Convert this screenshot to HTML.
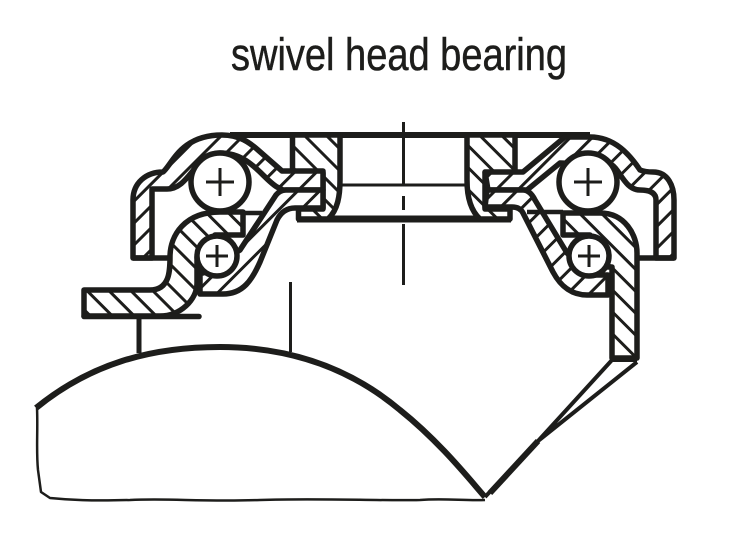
<!DOCTYPE html>
<html><head><meta charset="utf-8"><style>html,body{margin:0;padding:0;background:#fff}svg{display:block}</style></head><body>
<svg width="750" height="540" viewBox="0 0 750 540" xmlns="http://www.w3.org/2000/svg">
<defs>
<pattern id="b" width="15.500" height="15.500" patternUnits="userSpaceOnUse" patternTransform="rotate(45) translate(0 3)"><rect width="15.500" height="15.500" fill="#fff"/><rect x="0" y="0" width="15.500" height="3" fill="#1d1d1b"/></pattern>
<pattern id="s" width="15.500" height="15.500" patternUnits="userSpaceOnUse" patternTransform="rotate(-45) translate(0 3)"><rect width="15.500" height="15.500" fill="#fff"/><rect x="0" y="0" width="15.500" height="3" fill="#1d1d1b"/></pattern>
</defs>
<rect width="750" height="540" fill="#fff"/>
<text x="231" y="70" font-family="'Liberation Sans',sans-serif" font-size="45" fill="#1d1d1b" stroke="#1d1d1b" stroke-width="0.500" textLength="336" lengthAdjust="spacingAndGlyphs">swivel head bearing</text>
<g stroke="#1d1d1b" stroke-width="5.500" fill="none" stroke-linejoin="round">
<!-- wheel -->
<path d="M36,408 C90,364 150,347 220,347 C290,347 350,368 400,410 C440,442 470,480 485,497" stroke-width="6"/>
<path d="M37,408 C38,430 36,450 38,470 L41,492 L50,498 C70,500 90,501 130,500 C170,498 200,502 260,500 C320,498 380,501 420,500 C445,498 465,501 485,500" stroke-width="2.500"/>
<path d="M485,497 L538,441 L612,360 M485,497 L538,441 L637,362" stroke-width="4"/>
<path d="M490,493 L538,441" stroke-width="6"/>
<path d="M612,360 H637" stroke-width="4"/>
<path d="M139,317 V353" stroke-width="5"/>
<path d="M290.500,282 V352" stroke-width="3"/>
<!-- centre -->
<path d="M403.500,122 V185 M403.500,196 V210 M403.500,224 V285" stroke-width="3"/>
<path d="M342,185 H466" stroke-width="3"/>
<path d="M230,135 H590" stroke-width="6"/>
<path d="M297,219 H511" stroke-width="7"/>
<!-- centre blocks -->
<path d="M292.500,135 V173 H323 V209 H298.500 V219 H328 C338,210 340,195 340,180 V135 Z" fill="url(#b)"/>
<path d="M515,135 V173 H485 V209 H510 V219 H480 C470,210 467,195 467,180 V135 Z" fill="url(#b)"/>
<!-- left housing -->
<path d="M133,258 V200 C133,183 146,172 163,172 C172,165 180,135 222,135 C240,135 250,143 258,150 L282,171 H323 V190 H283 L277,187 C262,178 250,153 220,153 C195,153 190,189 167,189 H152 V258 Z" fill="url(#s)"/>
<path d="M133,258 H172"/>
<!-- left hat -->
<path d="M84,290 H150 C170,290 170,270 170,257 C170,235 185,212 220,212 H243 V235 H215 L197,257 V283 C197,300 180,316 160,316 H84 Z" fill="url(#b)"/>
<path d="M84,316.500 H199" stroke-linecap="round"/>
<!-- left lower shell -->
<path d="M323,190 H286 Q280,190 276,195 L240,250 L203,273 H200 V294 H223 C243,294 252,280 260,262 L277,220 Q283,208 295,208 H323 Z" fill="url(#s)"/>
<path d="M243,213 V235 M243,213 H262" stroke-width="4.500"/>
<!-- right housing -->
<path d="M485,172 H523 L565,137 H590 C615,137 630,155 640,170 Q645,172 653,172 C668,172 674,186 674,200 V258 H656 V200 Q656,190 640,190 C625,190 620,170 612,165 L560,163 L527,190 H488 Z" fill="url(#s)"/>
<path d="M637,258 H674"/>
<!-- right leg -->
<path d="M612,358 V267 H590 L590,235 H563 V213 H600 C625,213 637,235 637,253 V358 Z" fill="url(#b)"/>
<!-- right lower shell -->
<path d="M487,190 H523 Q530,190 535,200 L567,253 L590,275 H608 V295 H587 C570,295 560,285 553,272 L523,213 Q520,207 512,207 H485 Z" fill="url(#s)"/>
<path d="M527,212 H563" stroke-width="4.500"/>
<!-- balls -->
<circle cx="220" cy="182" r="29" fill="#fff"/>
<circle cx="588" cy="182" r="29" fill="#fff"/>
<circle cx="217" cy="256" r="20" fill="#fff"/>
<circle cx="589" cy="256" r="20" fill="#fff"/>
<path d="M206,182 H234 M220,168 V196 M574,182 H602 M588,168 V196 M206,256 H228 M217,245 V267 M578,256 H600 M589,245 V267" stroke-width="3"/>
</g>
</svg>
</body></html>
